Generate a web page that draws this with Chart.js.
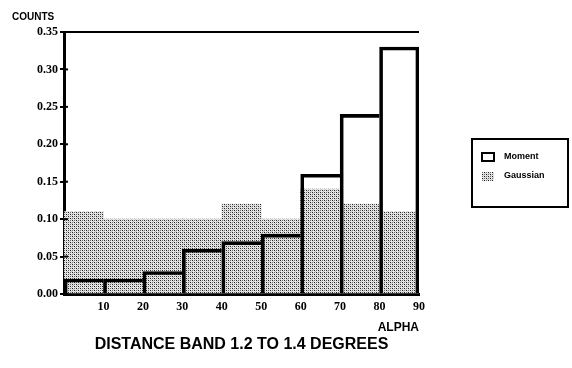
<!DOCTYPE html>
<html>
<head>
<meta charset="utf-8">
<script src="https://cdn.jsdelivr.net/npm/chart.js@4"></script>
<style>
  html, body { margin: 0; padding: 0; background: #fff; }
  #wrap { width: 572px; height: 368px; }
</style>
</head>
<body>
<div id="wrap"><canvas id="alpha-chart" width="572" height="368"></canvas></div>
<script>
// alpha bins, 10 degrees each (bin centres)
const binCenters = [5, 15, 25, 35, 45, 55, 65, 75, 85];
const momentCounts = [0.02, 0.02, 0.03, 0.06, 0.07, 0.08, 0.16, 0.24, 0.33];
const gaussianCounts = [0.11, 0.10, 0.10, 0.10, 0.12, 0.10, 0.14, 0.12, 0.11];
const seriesNames = ["Moment", "Gaussian"];

const canvas = document.getElementById("alpha-chart");
const ctx = canvas.getContext("2d");

// dotted fill like the old halftone print
const tile = document.createElement("canvas");
tile.width = 4;
tile.height = 4;
const tctx = tile.getContext("2d");
tctx.fillStyle = "#e6e6e6";
tctx.fillRect(0, 0, 4, 4);
tctx.fillStyle = "#1e1e1e";
tctx.fillRect(0, 0, 1, 1);
tctx.fillRect(2, 2, 1, 1);
tctx.fillStyle = "#6a6a6a";
tctx.fillRect(2, 0, 1, 1);
tctx.fillRect(0, 2, 1, 1);
tctx.fillStyle = "#c4c4c4";
tctx.fillRect(1, 1, 1, 1);
tctx.fillRect(3, 3, 1, 1);
const dots = ctx.createPattern(tile, "repeat");

const serif = "'Liberation Serif', 'Times New Roman', serif";
const sans = "'Liberation Sans', Arial, Helvetica, sans-serif";

const lastIdx = momentCounts.length - 1;

// short tick marks on the inside of the y axis
const innerTicks = {
  id: "innerTicks",
  afterDatasetsDraw(chart) {
    const y = chart.scales.y;
    const c = chart.ctx;
    c.save();
    c.strokeStyle = "#000";
    c.lineWidth = 2;
    y.ticks.forEach((t) => {
      const py = y.getPixelForValue(t.value);
      c.beginPath();
      c.moveTo(y.right, py);
      c.lineTo(y.right + 4, py);
      c.stroke();
    });
    c.restore();
  },
};

// boxed legend off to the right
const boxLegend = {
  id: "boxLegend",
  afterDraw(chart) {
    const c = chart.ctx;
    const area = chart.chartArea;
    const left = area.right + 53;
    const top = 139;
    c.save();
    c.strokeStyle = "#000";
    c.lineWidth = 2;
    c.strokeRect(left, top, 96, 68);
    c.font = "bold 9px " + sans;
    c.textBaseline = "middle";
    c.fillStyle = "#000";
    chart.data.datasets.forEach((ds, i) => {
      const rowY = top + 18 + i * 19;
      if (i === 0) {
        c.fillStyle = "#fff";
        c.fillRect(left + 10, rowY - 4, 12, 8);
        c.lineWidth = 2;
        c.strokeRect(left + 10, rowY - 4, 12, 8);
      } else {
        c.fillStyle = ds.backgroundColor;
        c.fillRect(left + 10, rowY - 4, 12, 9);
      }
      c.fillStyle = "#000";
      c.fillText(ds.label, left + 32, rowY);
    });
    c.restore();
  },
};

new Chart(ctx, {
  type: "bar",
  data: {
    labels: binCenters,
    datasets: [
      {
        label: seriesNames[0],
        data: binCenters.map((x, i) => ({ x, y: momentCounts[i] })),
        backgroundColor: "rgba(0,0,0,0)",
        borderColor: "#000",
        borderSkipped: false,
        borderWidth: (c) => ({
          top: 3,
          left: 3,
          right: c.dataIndex === lastIdx ? 3 : 0,
          bottom: 0,
        }),
        grouped: false,
        barPercentage: 1,
        categoryPercentage: 1,
      },
      {
        label: seriesNames[1],
        data: binCenters.map((x, i) => ({ x, y: gaussianCounts[i] })),
        backgroundColor: dots,
        borderWidth: 0,
        grouped: false,
        barPercentage: 1,
        categoryPercentage: 1,
      },
    ],
  },
  options: {
    responsive: false,
    animation: false,
    layout: {
      padding: { left: 12, right: 153, top: 0, bottom: 0 },
    },
    plugins: {
      legend: { display: false },
      tooltip: { enabled: false },
      title: {
        display: true,
        text: "COUNTS",
        align: "start",
        color: "#000",
        font: { family: sans, size: 10, weight: "bold" },
        padding: { top: 11, bottom: 9 },
      },
      subtitle: {
        display: true,
        position: "bottom",
        fullSize: false,
        text: "DISTANCE BAND 1.2 TO 1.4 DEGREES",
        color: "#000",
        font: { family: sans, size: 16, weight: "bold", lineHeight: 1 },
        padding: { top: 0, bottom: 15 },
      },
    },
    scales: {
      x: {
        type: "linear",
        min: 0,
        max: 90,
        offset: false,
        afterFit: (scale) => {
          scale.height = 43;
        },
        grid: { offset: false, drawOnChartArea: false, drawTicks: false },
        border: { display: true, color: "#000", width: 3 },
        ticks: {
          stepSize: 10,
          padding: 7,
          color: "#000",
          font: { family: serif, size: 12, weight: "bold", lineHeight: 1 },
          callback: (v) => (v === 0 ? "" : v),
        },
        title: {
          display: true,
          text: "ALPHA",
          align: "end",
          color: "#000",
          font: { family: sans, size: 12, weight: "bold", lineHeight: 1 },
          padding: { top: 9, bottom: 3 },
        },
      },
      y: {
        min: 0,
        max: 0.35,
        afterFit: (scale) => {
          scale.width = 52;
        },
        grid: {
          color: (c) => (c.tick && Math.abs(c.tick.value - 0.35) < 1e-6 ? "#000" : "rgba(0,0,0,0)"),
          lineWidth: 2,
          tickColor: "#000",
          tickWidth: 2,
          tickLength: 4,
        },
        border: { display: true, color: "#000", width: 3 },
        ticks: {
          stepSize: 0.05,
          padding: 2,
          color: "#000",
          font: { family: serif, size: 12, weight: "bold" },
          callback: (v) => v.toFixed(2),
        },
      },
    },
  },
  plugins: [innerTicks, boxLegend],
});
</script>
</body>
</html>
